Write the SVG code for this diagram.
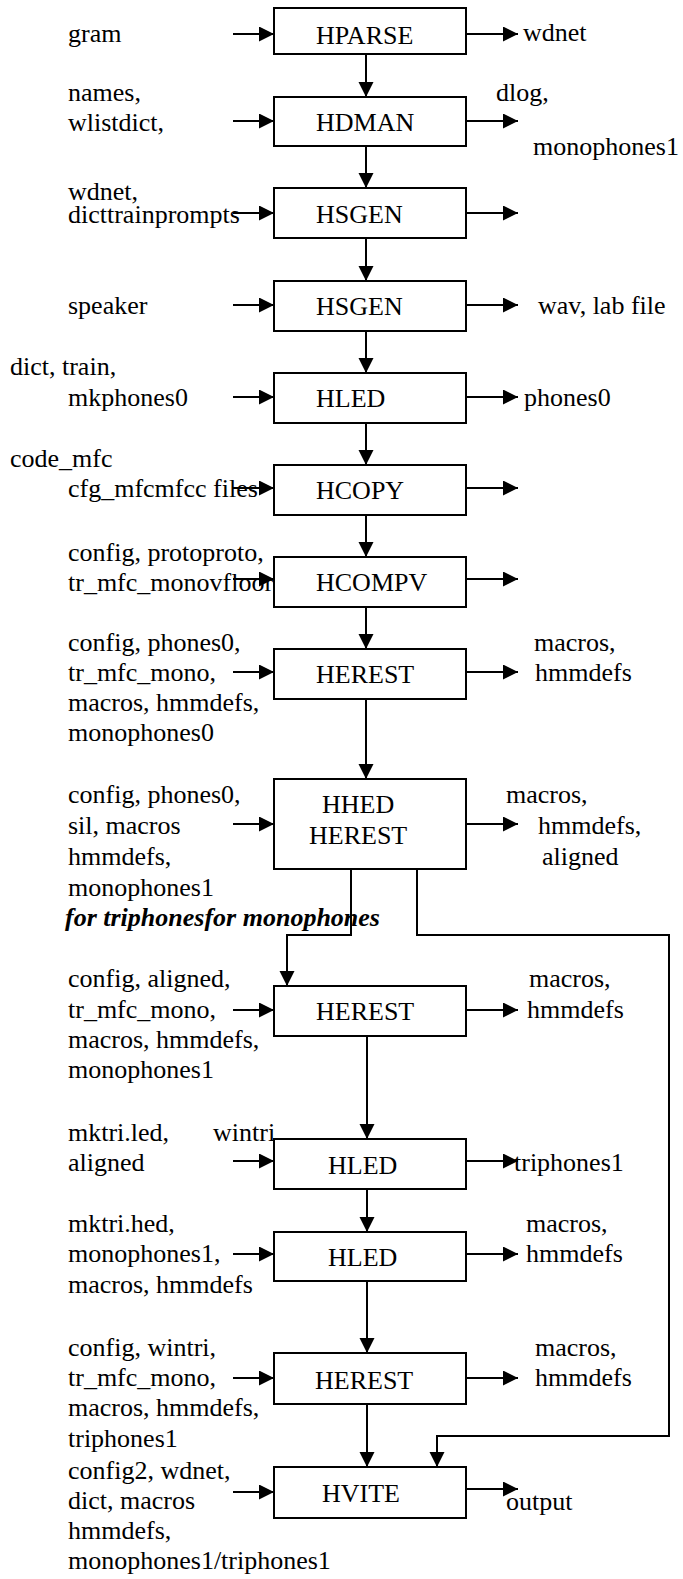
<svg xmlns="http://www.w3.org/2000/svg" width="683" height="1579" viewBox="0 0 683 1579">
<style>
text{font-family:"Liberation Serif","Times New Roman",serif;font-size:26px;fill:#000}
.box{fill:#fff;stroke:#000;stroke-width:2}
.c{fill:none;stroke:#000;stroke-width:2}
.a{marker-end:url(#ah)}
.bi{font-weight:bold;font-style:italic}
</style>
<defs>
<marker id="ah" markerUnits="userSpaceOnUse" markerWidth="16" markerHeight="16" refX="15" refY="7.5" orient="auto">
<path d="M0,0 L15,7.5 L0,15 z" fill="#000"/>
</marker>
</defs>
<rect width="683" height="1579" fill="#fff"/>

<g id="n1">
<text x="68" y="42">gram</text>
<text x="523" y="41">wdnet</text>
<rect class="box" x="274" y="8" width="192" height="46"/>
<text x="316" y="44">HPARSE</text>
</g>

<g id="n2">
<text x="68" y="101">names,</text>
<text x="68" y="131">wlistdict,</text>
<text x="496" y="101">dlog,</text>
<text x="533" y="155">monophones1</text>
<rect class="box" x="274" y="97" width="192" height="49"/>
<text x="316" y="131">HDMAN</text>
</g>

<g id="n3">
<text x="68" y="200">wdnet,</text>
<text x="68" y="223">dicttrainprompts</text>
<rect class="box" x="274" y="188" width="192" height="50"/>
<text x="316" y="223">HSGEN</text>
</g>

<g id="n4">
<text x="68" y="314">speaker</text>
<text x="538" y="314">wav, lab file</text>
<rect class="box" x="274" y="281" width="192" height="50"/>
<text x="316" y="315">HSGEN</text>
</g>

<g id="n5">
<text x="10" y="375">dict, train,</text>
<text x="68" y="406">mkphones0</text>
<text x="524" y="406">phones0</text>
<rect class="box" x="274" y="373" width="192" height="50"/>
<text x="316" y="407">HLED</text>
</g>

<g id="n6">
<text x="10" y="467">code_mfc</text>
<text x="68" y="497">cfg_mfcmfcc files</text>
<rect class="box" x="274" y="465" width="192" height="50"/>
<text x="316" y="499">HCOPY</text>
</g>

<g id="n7">
<text x="68" y="561">config, protoproto,</text>
<text x="68" y="591">tr_mfc_monovfloor</text>
<rect class="box" x="274" y="557" width="192" height="50"/>
<text x="316" y="591">HCOMPV</text>
</g>

<g id="n8">
<text x="68" y="651">config, phones0,</text>
<text x="68" y="681">tr_mfc_mono,</text>
<text x="68" y="711">macros, hmmdefs,</text>
<text x="68" y="741">monophones0</text>
<text x="534" y="651">macros,</text>
<text x="535" y="681">hmmdefs</text>
<rect class="box" x="274" y="649" width="192" height="50"/>
<text x="316" y="683">HEREST</text>
</g>

<g id="n9">
<text x="68" y="803">config, phones0,</text>
<text x="68" y="834">sil, macros</text>
<text x="68" y="865">hmmdefs,</text>
<text x="68" y="896">monophones1</text>
<text x="506" y="803">macros,</text>
<text x="538" y="834">hmmdefs,</text>
<text x="542" y="865">aligned</text>
<rect class="box" x="274" y="779" width="192" height="90"/>
<text x="322" y="813">HHED</text>
<text x="309" y="844">HEREST</text>
</g>

<text class="bi" x="65" y="926">for triphonesfor monophones</text>

<g id="n10">
<text x="68" y="987">config, aligned,</text>
<text x="68" y="1018">tr_mfc_mono,</text>
<text x="68" y="1048">macros, hmmdefs,</text>
<text x="68" y="1078">monophones1</text>
<text x="529" y="987">macros,</text>
<text x="527" y="1018">hmmdefs</text>
<rect class="box" x="274" y="986" width="192" height="50"/>
<text x="316" y="1020">HEREST</text>
</g>

<g id="n11">
<text x="68" y="1141">mktri.led,</text>
<text x="213" y="1141">wintri</text>
<text x="68" y="1171">aligned</text>
<text x="514" y="1171">triphones1</text>
<rect class="box" x="274" y="1139" width="192" height="50"/>
<text x="328" y="1174">HLED</text>
</g>

<g id="n12">
<text x="68" y="1232">mktri.hed,</text>
<text x="68" y="1262">monophones1,</text>
<text x="68" y="1293">macros, hmmdefs</text>
<text x="526" y="1232">macros,</text>
<text x="526" y="1262">hmmdefs</text>
<rect class="box" x="274" y="1232" width="192" height="49"/>
<text x="328" y="1266">HLED</text>
</g>

<g id="n13">
<text x="68" y="1356">config, wintri,</text>
<text x="68" y="1386">tr_mfc_mono,</text>
<text x="68" y="1416">macros, hmmdefs,</text>
<text x="68" y="1447">triphones1</text>
<text x="535" y="1356">macros,</text>
<text x="535" y="1386">hmmdefs</text>
<rect class="box" x="274" y="1353" width="192" height="51"/>
<text x="315" y="1389">HEREST</text>
</g>

<g id="n14">
<text x="68" y="1479">config2, wdnet,</text>
<text x="68" y="1509">dict, macros</text>
<text x="68" y="1539">hmmdefs,</text>
<text x="68" y="1569">monophones1/triphones1</text>
<text x="506" y="1510">output</text>
<rect class="box" x="274" y="1467" width="192" height="51"/>
<text x="322" y="1502">HVITE</text>
</g>

<g id="connectors">
<path class="c a" d="M233,34 H274"/>
<path class="c a" d="M233,121 H274"/>
<path class="c a" d="M233,213 H274"/>
<path class="c a" d="M233,305 H274"/>
<path class="c a" d="M233,397 H274"/>
<path class="c a" d="M233,488 H274"/>
<path class="c a" d="M233,579 H274"/>
<path class="c a" d="M233,672 H274"/>
<path class="c a" d="M233,824 H274"/>
<path class="c a" d="M233,1010 H274"/>
<path class="c a" d="M233,1161 H274"/>
<path class="c a" d="M233,1254 H274"/>
<path class="c a" d="M233,1378 H274"/>
<path class="c a" d="M233,1492 H274"/>
<path class="c a" d="M466,34 H518"/>
<path class="c a" d="M466,121 H518"/>
<path class="c a" d="M466,213 H518"/>
<path class="c a" d="M466,305 H518"/>
<path class="c a" d="M466,397 H518"/>
<path class="c a" d="M466,488 H518"/>
<path class="c a" d="M466,579 H518"/>
<path class="c a" d="M466,672 H518"/>
<path class="c a" d="M466,824 H518"/>
<path class="c a" d="M466,1010 H518"/>
<path class="c a" d="M466,1161 H518"/>
<path class="c a" d="M466,1254 H518"/>
<path class="c a" d="M466,1378 H518"/>
<path class="c a" d="M466,1489 H518"/>
<path class="c a" d="M366,54 V97"/>
<path class="c a" d="M366,146 V188"/>
<path class="c a" d="M366,238 V281"/>
<path class="c a" d="M366,331 V373"/>
<path class="c a" d="M366,423 V465"/>
<path class="c a" d="M366,515 V557"/>
<path class="c a" d="M366,607 V649"/>
<path class="c a" d="M366,699 V779"/>
<path class="c a" d="M351,869 V935 H287 V986"/>
<path class="c a" d="M417,869 V935 H669 V1436 H437 V1467"/>
<path class="c a" d="M367,1036 V1139"/>
<path class="c a" d="M367,1189 V1232"/>
<path class="c a" d="M367,1281 V1353"/>
<path class="c a" d="M367,1404 V1467"/>
</g>
</svg>
